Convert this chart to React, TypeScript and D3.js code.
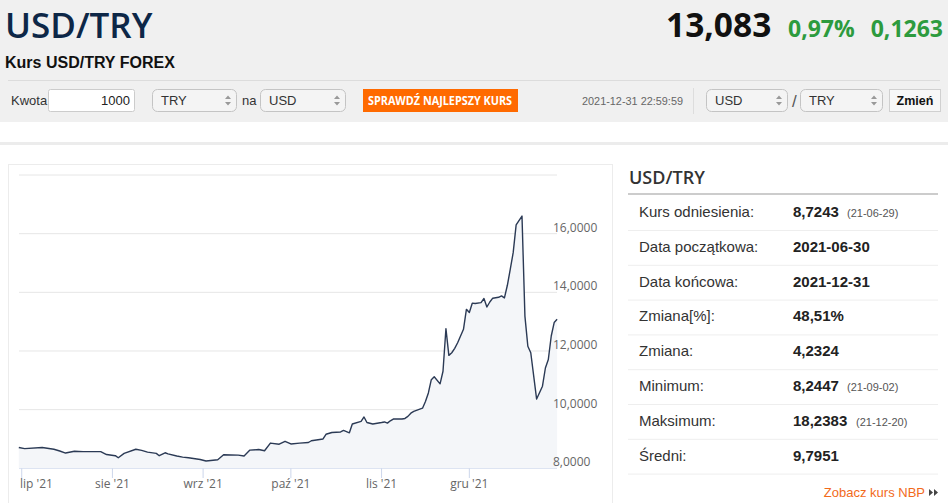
import * as d3 from 'd3';

// USD/TRY daily close
const dates = [
  '2021-06-30', '2021-07-02', '2021-07-08', '2021-07-12', '2021-07-14', '2021-07-16', '2021-07-19',
  '2021-07-22', '2021-07-28', '2021-07-30', '2021-08-02', '2021-08-03', '2021-08-05', '2021-08-09',
  '2021-08-11', '2021-08-13', '2021-08-16', '2021-08-17', '2021-08-19', '2021-08-20', '2021-08-23',
  '2021-08-25', '2021-08-27', '2021-08-31', '2021-09-02', '2021-09-06', '2021-09-08', '2021-09-13',
  '2021-09-15', '2021-09-17', '2021-09-20', '2021-09-22', '2021-09-24', '2021-09-27', '2021-09-29',
  '2021-10-01', '2021-10-04', '2021-10-07', '2021-10-08', '2021-10-12', '2021-10-13', '2021-10-15',
  '2021-10-18', '2021-10-19', '2021-10-21', '2021-10-22', '2021-10-25', '2021-10-26', '2021-10-27',
  '2021-10-29', '2021-11-01', '2021-11-02', '2021-11-03', '2021-11-04', '2021-11-05', '2021-11-08',
  '2021-11-09', '2021-11-10', '2021-11-11', '2021-11-12', '2021-11-15', '2021-11-16', '2021-11-17',
  '2021-11-18', '2021-11-19', '2021-11-21', '2021-11-22', '2021-11-23', '2021-11-24', '2021-11-25',
  '2021-11-26', '2021-11-27', '2021-11-29', '2021-11-30', '2021-12-01', '2021-12-02', '2021-12-03',
  '2021-12-05', '2021-12-06', '2021-12-07', '2021-12-08', '2021-12-09', '2021-12-11', '2021-12-12',
  '2021-12-13', '2021-12-14', '2021-12-15', '2021-12-16', '2021-12-17', '2021-12-19', '2021-12-20',
  '2021-12-21', '2021-12-22', '2021-12-24', '2021-12-26', '2021-12-27', '2021-12-28', '2021-12-29',
  '2021-12-30', '2021-12-31',
];

const rates = [
  8.71, 8.67, 8.71, 8.65, 8.59, 8.52, 8.58,
  8.57, 8.57, 8.47, 8.43, 8.36, 8.51, 8.65,
  8.61, 8.55, 8.51, 8.43, 8.53, 8.49, 8.42,
  8.38, 8.36, 8.3, 8.25, 8.29, 8.46, 8.45,
  8.42, 8.62, 8.64, 8.6, 8.86, 8.82, 8.92,
  8.83, 8.86, 8.88, 8.94, 9.0, 9.16, 9.22,
  9.24, 9.29, 9.21, 9.51, 9.6, 9.75, 9.56,
  9.51, 9.56, 9.58, 9.54, 9.62, 9.68, 9.68,
  9.7, 9.77, 9.88, 9.94, 10.05, 10.28, 10.57,
  11.02, 11.12, 10.88, 11.31, 12.76, 11.85, 11.94,
  12.09, 12.28, 12.74, 13.42, 13.31, 13.63, 13.62,
  13.65, 13.79, 13.5, 13.67, 13.8, 13.83, 13.88,
  13.81, 14.24, 14.79, 15.36, 16.3, 16.6, 13.19,
  12.16, 11.94, 10.36, 10.8, 11.42, 11.71, 12.51,
  12.97, 13.08,
];

const yTicks = [8, 10, 12, 14, 16, 18];
const monthLabels = ["lip '21", "sie '21", "wrz '21", "paź '21", "lis '21", "gru '21"];

const statLabels = [
  'Kurs odniesienia:', 'Data początkowa:', 'Data końcowa:', 'Zmiana[%]:',
  'Zmiana:', 'Minimum:', 'Maksimum:', 'Średni:',
];
const statValues = ['8,7243', '2021-06-30', '2021-12-31', '48,51%', '4,2324', '8,2447', '18,2383', '9,7951'];
const statNotes = ['(21-06-29)', '', '', '', '', '(21-09-02)', '(21-12-20)', ''];

const parse = d3.timeParse('%Y-%m-%d');
const series = dates.map((d, i) => ({ date: parse(d) as Date, value: rates[i] }));

const SANS = 'Liberation Sans, Arial, sans-serif';
const OPEN = 'Open Sans, sans-serif';

function Select({ x, w, label }: { x: number; w: number; label: string }) {
  return (
    <g>
      <rect x={x + 0.5} y={89.5} width={w} height={22} rx={5} fill="#f4f4f4" stroke="#c4c4c4" />
      <text x={x + 9} y={105} fontFamily={SANS} fontSize={13} fill="#333">{label}</text>
      <path d={`M${x + w - 11},99 l3,-3.5 l3,3.5 z M${x + w - 11},102 l3,3.5 l3,-3.5 z`} fill="#999" />
    </g>
  );
}

function Chart() {
  const x = d3
    .scaleTime()
    .domain([parse('2021-06-30') as Date, parse('2021-12-31') as Date])
    .range([18.8, 557.1]);
  const y = d3.scaleLinear().domain([8, 18]).range([468.3, 175]);

  const line = d3
    .line<{ date: Date; value: number }>()
    .x((d) => x(d.date))
    .y((d) => y(d.value));
  const area = d3
    .area<{ date: Date; value: number }>()
    .x((d) => x(d.date))
    .y0(y(8))
    .y1((d) => y(d.value));

  const months = d3.timeMonth.range(parse('2021-07-01') as Date, parse('2021-12-02') as Date);
  const fmt = (v: number) => d3.format('.4f')(v).replace('.', ',');

  return (
    <g>
      <rect x={8.5} y={164.5} width={604} height={360} fill="#fff" stroke="#ececec" />
      {yTicks.map((t) => (
        <line key={t} x1={19} x2={557} y1={y(t)} y2={y(t)} stroke={t === 8 ? '#ccd6eb' : '#e6e6e6'} />
      ))}
      <path d={area(series) || ''} fill="#f4f6f9" />
      <path d={line(series) || ''} fill="none" stroke="#2b3a55" strokeWidth={1.4} strokeLinejoin="round" />
      {yTicks
        .filter((t) => t < 18)
        .map((t) => (
          <text key={t} x={553} y={y(t) - 2} fontFamily={OPEN} fontSize={12} fill="#666">
            {fmt(t)}
          </text>
        ))}
      {months.map((m, i) => (
        <g key={i}>
          <line x1={x(m)} x2={x(m)} y1={468.3} y2={478} stroke="#ccd6eb" />
          <text
            x={i === 0 ? 20 : x(m)}
            y={488}
            textAnchor={i === 0 ? 'start' : 'middle'}
            fontFamily={OPEN}
            fontSize={12}
            fill="#666"
          >
            {monthLabels[i]}
          </text>
        </g>
      ))}
    </g>
  );
}

function Stats() {
  const rowH = 34.8;
  return (
    <g fontFamily={SANS}>
      <text x={629} y={184} fontFamily={OPEN} fontSize={18} fontWeight={600} fill="#333">USD/TRY</text>
      <line x1={628} x2={938} y1={194} y2={194} stroke="#bbb" strokeWidth={1.5} />
      {statLabels.map((l, i) => {
        const cy = 212 + i * rowH;
        return (
          <g key={l}>
            <text x={639} y={cy + 5} fontSize={15} fill="#333">{l}</text>
            <text x={793} y={cy + 5} fontSize={15} fontWeight="bold" fill="#222">{statValues[i]}</text>
            {statNotes[i] && (
              <text x={statValues[i].length > 6 ? 856 : 847} y={cy + 5} fontSize={11} fill="#555">
                {statNotes[i]}
              </text>
            )}
            <line x1={628} x2={938} y1={cy + 18.5} y2={cy + 18.5} stroke="#eee" />
          </g>
        );
      })}
      <text x={925} y={497} textAnchor="end" fontSize={13} fill="#f26a1b">Zobacz kurs NBP</text>
      <path d="M929,489 l4,3.5 l-4,3.5 z M934,489 l4,3.5 l-4,3.5 z" fill="#444" />
    </g>
  );
}

export default function App() {
  return (
    <div style={{ position: 'absolute', left: 0, top: 0 }}>
      <svg width={948} height={503} style={{ display: 'block', background: '#fff' }}>
        {/* header band */}
        <rect x={0} y={0} width={948} height={122} fill="#f0f0f0" />
        <text x={5} y={37.5} fontFamily={OPEN} fontSize={35} fontWeight={600} fill="#0d2747">
          USD/TRY
        </text>
        <text x={5} y={68} fontFamily={SANS} fontSize={16} fontWeight="bold" fill="#111">Kurs USD/TRY FOREX</text>
        <text x={666} y={37} fontFamily={OPEN} fontSize={33.5} fontWeight="bold" fill="#111">
          13,083
        </text>
        <text x={788} y={37} fontFamily={OPEN} fontSize={23} fontWeight="bold" fill="#2d9b3e">0,97%</text>
        <text x={943} y={37} textAnchor="end" fontFamily={OPEN} fontSize={23} fontWeight="bold" fill="#2d9b3e">0,1263</text>
        <line x1={8} x2={940} y1={80.5} y2={80.5} stroke="#dcdcdc" />

        {/* toolbar */}
        <text x={11} y={105} fontFamily={SANS} fontSize={13} fill="#333">Kwota</text>
        <rect x={48.5} y={89.5} width={86} height={22} rx={2} fill="#fff" stroke="#ccc" />
        <text x={130} y={105} textAnchor="end" fontFamily={SANS} fontSize={13} fill="#222">1000</text>
        <Select x={152} w={84} label="TRY" />
        <text x={242} y={105} fontFamily={SANS} fontSize={13} fill="#333">na</text>
        <Select x={260} w={85} label="USD" />
        <rect x={363} y={89} width={155} height={23} fill="#ff6a00" />
        <text x={368} y={105} fontFamily={OPEN} fontSize={12} fontWeight="bold" fill="#fff" textLength={144} lengthAdjust="spacingAndGlyphs">
          SPRAWDŹ NAJLEPSZY KURS
        </text>
        <text x={582} y={105} fontFamily={SANS} fontSize={11.5} fill="#666" textLength={101} lengthAdjust="spacingAndGlyphs">
          2021-12-31 22:59:59
        </text>
        <line x1={693.5} x2={693.5} y1={88} y2={114} stroke="#ddd" />
        <Select x={706} w={81} label="USD" />
        <text x={792} y={107} fontFamily={SANS} fontSize={17} fill="#555">/</text>
        <Select x={800} w={82} label="TRY" />
        <rect x={889.5} y={89.5} width={51} height={22} fill="#f7f7f7" stroke="#d0d0d0" />
        <text x={915} y={105} textAnchor="middle" fontFamily={SANS} fontSize={12.5} fontWeight="bold" fill="#111">Zmień</text>

        <rect x={0} y={142} width={948} height={3} fill="#ececec" />

        <Chart />
        <Stats />
      </svg>
    </div>
  );
}
